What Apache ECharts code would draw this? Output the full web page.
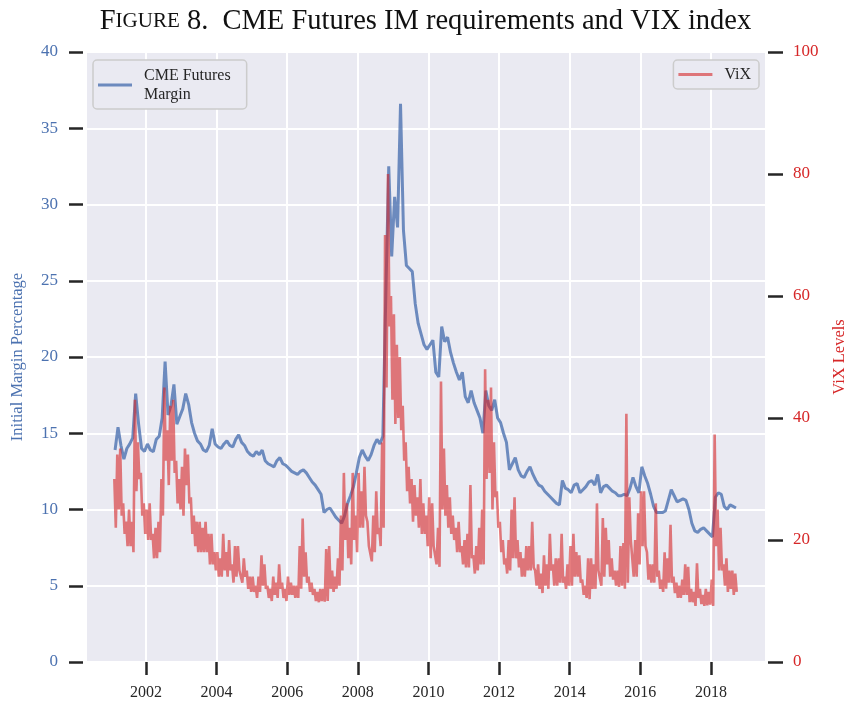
<!DOCTYPE html>
<html>
<head>
<meta charset="utf-8">
<script src="https://cdn.jsdelivr.net/npm/echarts@6/dist/echarts.min.js"></script>
<style>
html, body { margin: 0; padding: 0; background: #fff; }
#main { width: 851px; height: 704px; }
</style>
</head>
<body>
<div id="main"></div>
<script>
// CME futures initial margin (%), one value per month, Feb 2001 .. Sep 2018
const marginStart = [2001, 2];
const marginValues = [
  13.9, 15.4, 14.2, 13.3, 14.0, 14.3, 14.7, 17.6, 15.6, 14.0, 13.8,
  14.3, 13.9, 13.8, 14.6, 14.8, 16.0, 19.7, 16.2, 16.8, 18.2, 15.6, 16.1,
  16.6, 17.6, 16.9, 15.7, 15.0, 14.5, 14.3, 13.9, 13.8, 14.2, 15.3, 14.3,
  14.1, 14.0, 14.3, 14.5, 14.2, 14.1, 14.6, 14.9, 14.4, 14.2, 13.8, 13.6,
  13.5, 13.8, 13.6, 13.9, 13.2, 13.0, 12.9, 12.8, 13.2, 13.4, 13.0, 12.9,
  12.7, 12.5, 12.4, 12.3, 12.5, 12.6, 12.4, 12.1, 11.8, 11.6, 11.3, 11.0,
  9.8, 10.0, 10.1, 9.8, 9.5, 9.3, 9.1, 9.6, 10.4, 10.9, 11.5, 12.4,
  13.4, 13.9, 13.5, 13.2, 13.6, 14.2, 14.6, 14.3, 14.8, 24.0, 32.5, 26.6,
  30.5, 28.5, 36.6, 28.3, 26.0, 25.8, 25.6, 23.5, 22.2, 21.5, 20.8, 20.5,
  20.8, 21.1, 19.0, 18.7, 22.0, 21.0, 21.3, 20.3, 19.6, 19.0, 18.5, 19.0,
  17.4, 17.0, 17.8, 17.0, 16.5, 16.0, 15.0, 17.8, 16.8, 16.5, 17.2, 16.0,
  15.7, 15.0, 14.4, 12.6, 13.0, 13.4, 12.6, 12.2, 12.1, 12.5, 12.8, 12.3,
  11.9, 11.6, 11.5, 11.2, 11.0, 10.8, 10.6, 10.4, 10.3, 11.9, 11.4, 11.3,
  11.1, 11.6, 11.7, 11.1, 11.3, 11.5, 11.8, 11.9, 11.6, 12.3, 11.1, 11.5,
  11.6, 11.4, 11.2, 11.1, 10.9, 10.9, 11.0, 10.9, 11.4, 12.1, 11.5, 11.1,
  12.8, 12.2, 11.7, 11.0, 10.2, 9.8, 9.8, 9.8, 9.9, 10.6, 11.3, 10.9,
  10.5, 10.6, 10.7, 10.6, 10.0, 9.1, 8.6, 8.5, 8.7, 8.8, 8.6, 8.4,
  8.2, 10.8, 11.1, 11.0, 10.2, 10.0, 10.3, 10.2, 10.1
];

// VIX level, two readings per month (band high / band low), Feb 2001 .. Sep 2018
const vixStart = [2001, 2];
const vixValues = [
  30,22, 34,25, 35,24, 26,21, 23,19, 25,19, 23,18, 43,28, 36,30, 31,24, 26,21,
  25,20, 26,20, 21,17, 22,17, 23,18, 30,24, 45,33, 38,29, 42,33, 43,31, 33,26, 30,25,
  32,24, 35,29, 34,26, 27,21, 24,19, 23,18, 23,18, 22,18, 23,18, 21,16, 21,16, 18,15,
  18,14, 17,14, 21,15, 18,14, 20,15, 16,13, 19,14, 19,15, 15,13, 17,14, 15,12, 14,11.5,
  14,11.5, 12.5,10.5, 14,11.5, 17.5,12.5, 16,12, 12.5,10.5, 12,10, 14,11, 13,10.5, 16,12, 13,10.5, 12,10,
  14,11, 13,11, 12.5,10.5, 12.5,10.5, 19,12, 23.5,14, 18,13, 14,11.5, 13,11, 12,10, 11.5,9.8, 12,10,
  12,9.9, 18.5,10, 19,12, 15,11.5, 14,12, 17,12.5, 24,15, 31,20, 26,17, 22,16, 31,20, 24,18,
  31,22, 28,22, 32,24, 23,19, 19,16.5, 24,18, 28,21, 22,19, 36,22, 70,45, 80,55, 60,43,
  57,39, 52,40, 50,38, 42,33, 36,28, 32,26, 30,23, 29,24, 27,22, 30,21, 26,21, 24,19,
  27,17, 26,19, 19,16, 22,15.6, 46,25, 35,24, 29,22, 27,21, 24,20, 22,18, 23,18, 19,16,
  20,15.5, 21,15.5, 29,17, 17.5,14.5, 19,15, 22,16, 25,16, 48,30, 43,31, 45,25, 36,27, 28,22,
  23,18, 20,16, 17,14.5, 20,15, 25,17, 27,17, 20,15.5, 18,14, 17,14, 19,15, 19,15, 23,15.5,
  15,12.5, 16,12, 14.5,11.3, 17.5,12.5, 16,12, 21,15, 16,12.5, 17,12.5, 17,13, 21,13, 14,12, 16,12.5,
  19,12.5, 21,14, 18,14, 17.5,13, 13.5,11, 12.5,10.5, 17,10.3, 17,12, 16,12, 26,15, 15,12.5, 23.6,14,
  22,16, 20,14, 17,13.5, 15,12.5, 15,12.3, 19,12.5, 19.5,12, 40.7,13, 27,20, 20,14, 20,14, 24.4,16,
  28,19, 28,19, 18,13.5, 16,13, 16,13, 26,14, 15,12, 13.5,11.5, 18,12, 17,13, 22.5,13, 14,11.3,
  13,10.5, 12.5,10.5, 13.5,11, 16,11, 15.6,9.8, 12,9.8, 11.5,9.2, 16.2,10.5, 12,9.5, 11,9.2, 12,9.3, 11.5,9.4,
  13.5,9.2, 37.3,19, 25,15, 22,15, 16,12.5, 17,11.5, 15,12, 15,11, 14.5,11.5
];

const xTickYears = [2002, 2004, 2006, 2008, 2010, 2012, 2014, 2016, 2018];
const xRange = [2000.33, 2019.53];

const serif = 'Liberation Serif';
const blue = '#4c72b0';
const red = '#d62728';

// decimal-year time stamps, mid month for monthly, quarter/three-quarter for half months
const marginData = marginValues.map((v, i) =>
  [marginStart[0] + (marginStart[1] - 1 + i + 0.5) / 12, v]);
const vixData = vixValues.map((v, j) =>
  [vixStart[0] + (vixStart[1] - 1 + Math.floor(j / 2) + (j % 2 ? 0.75 : 0.25)) / 12, v]);

var myChart = echarts.init(document.getElementById('main'), null, { renderer: 'canvas' });

var legendBase = {
  orient: 'vertical',
  top: 60,
  icon: 'rect',
  itemWidth: 34,
  itemHeight: 3,
  backgroundColor: '#eaeaf2',
  borderColor: '#cccccc',
  borderWidth: 1.5,
  borderRadius: 4,
  selectedMode: false,
  textStyle: { fontFamily: serif, fontSize: 16, color: '#262626', lineHeight: 19, padding: [0, 0, 0, 7] }
};

var option = {
  animation: false,
  backgroundColor: '#ffffff',
  title: {
    left: 'center',
    top: 2,
    text: '{a|F}{b|IGURE}{a| 8.  CME Futures IM requirements and VIX index}',
    textStyle: {
      rich: {
        a: { fontFamily: serif, fontSize: 28.5, fontWeight: 'normal', color: '#111' },
        b: { fontFamily: serif, fontSize: 21, fontWeight: 'normal', color: '#111' }
      }
    }
  },
  legend: [
    Object.assign({}, legendBase, {
      data: ['CME Futures Margin'],
      left: 93,
      padding: [6, 16, 5, 5],
      formatter: () => 'CME Futures\nMargin'
    }),
    Object.assign({}, legendBase, {
      data: ['ViX'],
      right: 92,
      padding: [5, 8, 5, 5]
    })
  ],
  grid: {
    left: 87, right: 86, top: 52, bottom: 42,
    outerBoundsMode: 'none',
    containLabel: false,
    show: true, backgroundColor: '#eaeaf2', borderWidth: 0
  },
  xAxis: {
    type: 'value',
    min: xRange[0],
    max: xRange[1],
    splitNumber: 10,
    offset: 3,
    axisLine: { show: false },
    axisTick: { show: true, customValues: xTickYears, length: 13, lineStyle: { color: '#262626', width: 2.5 } },
    axisLabel: { customValues: xTickYears, margin: 20, fontFamily: serif, fontSize: 16, color: '#262626',
      formatter: v => String(v) },
    splitLine: { show: true, lineStyle: { color: '#ffffff', width: 2 } }
  },
  yAxis: [
    {
      type: 'value', position: 'left', min: 0, max: 40, interval: 5, offset: 4,
      name: 'Initial Margin Percentage', nameLocation: 'middle', nameGap: 57, nameRotate: 90,
      nameTextStyle: { color: blue, fontFamily: serif, fontSize: 16.5 },
      axisLine: { show: false },
      axisTick: { show: true, length: 14, lineStyle: { color: '#262626', width: 2.5 } },
      axisLabel: { margin: 25, color: blue, fontFamily: serif, fontSize: 17 },
      splitLine: { show: true, lineStyle: { color: '#ffffff', width: 2 } }
    },
    {
      type: 'value', position: 'right', min: 0, max: 100, interval: 20, offset: 3,
      name: 'ViX Levels', nameLocation: 'middle', nameGap: 63, nameRotate: 90,
      nameTextStyle: { color: red, fontFamily: serif, fontSize: 16.5 },
      axisLine: { show: false },
      axisTick: { show: true, length: 15, lineStyle: { color: '#262626', width: 2.5 } },
      axisLabel: { margin: 25, color: red, fontFamily: serif, fontSize: 17 },
      splitLine: { show: false }
    }
  ],
  series: [
    {
      name: 'CME Futures Margin',
      type: 'line',
      yAxisIndex: 0,
      data: marginData,
      showSymbol: false,
      itemStyle: { color: 'rgba(76,114,176,0.8)' },
      lineStyle: { color: 'rgba(76,114,176,0.8)', width: 3 }
    },
    {
      name: 'ViX',
      type: 'line',
      yAxisIndex: 1,
      data: vixData,
      showSymbol: false,
      itemStyle: { color: 'rgba(214,39,40,0.6)' },
      lineStyle: { color: 'rgba(214,39,40,0.6)', width: 2.6 }
    }
  ]
};
myChart.setOption(option);
</script>
</body>
</html>
